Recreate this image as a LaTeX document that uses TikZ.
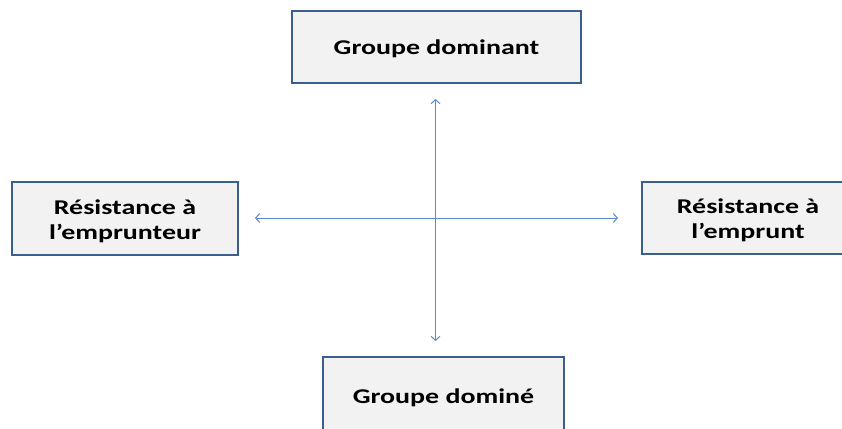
\documentclass[tikz,border=0pt]{standalone}
\usepackage{fontspec}
\setmainfont{Carlito}[FakeStretch=1.33]
\usetikzlibrary{arrows.meta}
\definecolor{boxfill}{HTML}{F2F2F2}
\definecolor{boxline}{HTML}{3A5F8F}
\definecolor{arrowblue}{HTML}{5B8BC9}
\newcommand\boxtext[1]{\raisebox{-3pt}[\height][\depth]{\begin{tabular}{@{}c@{}}#1\end{tabular}}}
\tikzset{
  box/.style={draw=boxline, line width=1.8pt, fill=boxfill, align=center,
    inner sep=0pt, font=\fontsize{21}{25}\selectfont\bfseries},
  link/.style={draw=arrowblue, line width=1pt,
    {Straight Barb[length=4pt,width=9pt]}-{Straight Barb[length=4pt,width=9pt]}}
}
\begin{document}
\begin{tikzpicture}[x=1pt,y=-1pt]
\useasboundingbox (0,0) rectangle (842,428);
\clip (0,0) rectangle (842,428);
\node[box, minimum width=289pt, minimum height=72pt] (t) at (436.5,47) {\boxtext{Groupe dominant}};
\node[box, minimum width=226pt, minimum height=73pt] (l) at (125,218.5) {\boxtext{Résistance à\\l’emprunteur}};
\node[box, minimum width=212pt, minimum height=72pt] (r) at (748,218) {\boxtext{Résistance à\\l’emprunt}};
\node[box, minimum width=241pt, minimum height=76pt] (b) at (443.5,395) {\raisebox{2pt}{\boxtext{Groupe dominé}}};
\coordinate (vt) at (435.5,99);
\coordinate (vb) at (435.5,341);
\coordinate (hl) at (255,218);
\coordinate (hr) at (618,218);
\draw[link] (vt) -- (vb);
\draw[link] (hl) -- (hr);
\end{tikzpicture}
\end{document}
